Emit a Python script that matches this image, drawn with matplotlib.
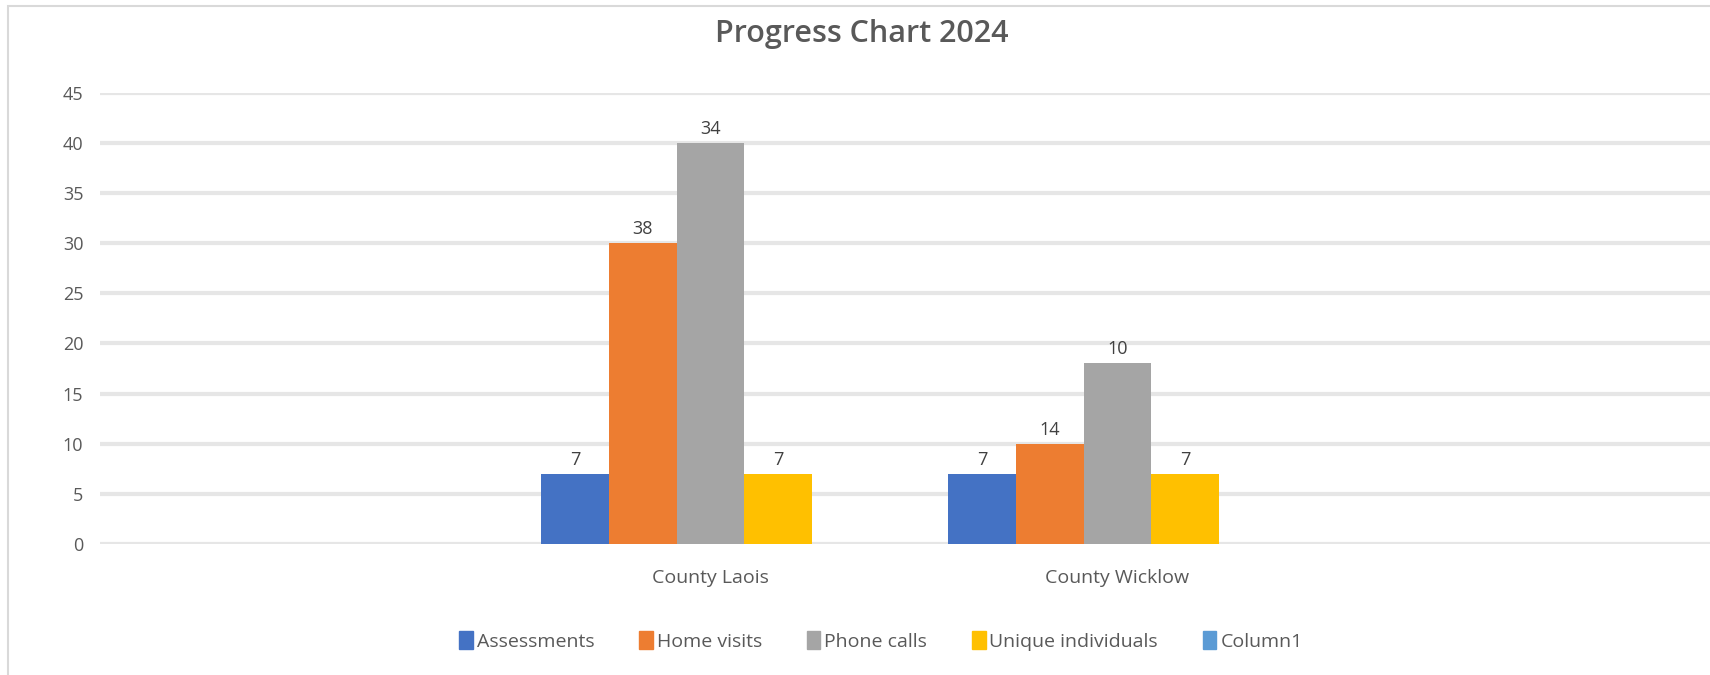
import matplotlib
matplotlib.use("Agg")
import matplotlib.pyplot as plt
from matplotlib.patches import Patch, Rectangle
import numpy as np

plt.rcParams['font.family'] = ['Open Sans', 'DejaVu Sans']

counties = ["County Laois", "County Wicklow"]
series = ["Assessments", "Home visits", "Phone calls", "Unique individuals", "Column1"]
# bar heights as drawn (Column1 is empty)
heights = [
    [7, 7],     # Assessments
    [30, 10],   # Home visits
    [40, 18],   # Phone calls
    [7, 7],     # Unique individuals
]
# data labels as printed on the chart
labels = [
    [7, 7],
    [38, 14],
    [34, 10],
    [7, 7],
]
colors = ["#4472C4", "#ED7D31", "#A5A5A5", "#FFC000", "#5B9BD5"]
yticks = list(range(0, 50, 5))

fig = plt.figure(figsize=(17.1, 6.75), dpi=100)
ax = fig.add_axes([100 / 1710, 131 / 675, 1 - 100 / 1710, (544 - 92.7) / 675])

# chart border
fig.patches.append(Rectangle((8 / 1710, -0.1), 1.2, (675 - 6) / 675 + 0.1,
                             transform=fig.transFigure, fill=False,
                             edgecolor="#D9D9D9", linewidth=1.5))

x = np.arange(len(counties))
w = 0.1665
nslots = len(series)
for i in range(len(heights)):
    pos = x + (i - (nslots - 1) / 2) * w
    ax.bar(pos, heights[i], width=w, color=colors[i], zorder=3)
    for px, h, lab in zip(pos, heights[i], labels[i]):
        ax.text(px, h + 0.5, str(lab), ha="center", va="bottom",
                fontsize=13, color="#404040", zorder=4)

ax.set_xlim(-1.5, -1.5 + 1610 / 407)
ax.set_ylim(0, 45)
ax.set_yticks(yticks)
ax.set_xticks(x)
ax.set_xticklabels(counties, fontsize=14)
ax.yaxis.grid(True, color="#E6E6E6", linewidth=3, zorder=0)
ax.set_axisbelow(True)
for s in ax.spines.values():
    s.set_visible(False)
ax.tick_params(axis="both", length=0, labelsize=13, labelcolor="#595959")
ax.tick_params(axis="x", labelsize=14, pad=18)
ax.tick_params(axis="y", pad=12)

fig.text(862 / 1710, 1 - 34 / 675, "Progress Chart 2024", ha="center", va="center",
         fontsize=22, fontweight="semibold", color="#595959")

handles = [Patch(color=c, label=n) for n, c in zip(series, colors)]
fig.legend(handles=handles, loc="center", bbox_to_anchor=(881 / 1710, 1 - 641 / 675),
           ncol=5, frameon=False, fontsize=14, labelcolor="#595959",
           handlelength=0.7, handleheight=1.0, handletextpad=0.2, columnspacing=2.3)

fig.savefig("out.png", dpi=100, facecolor="white")
